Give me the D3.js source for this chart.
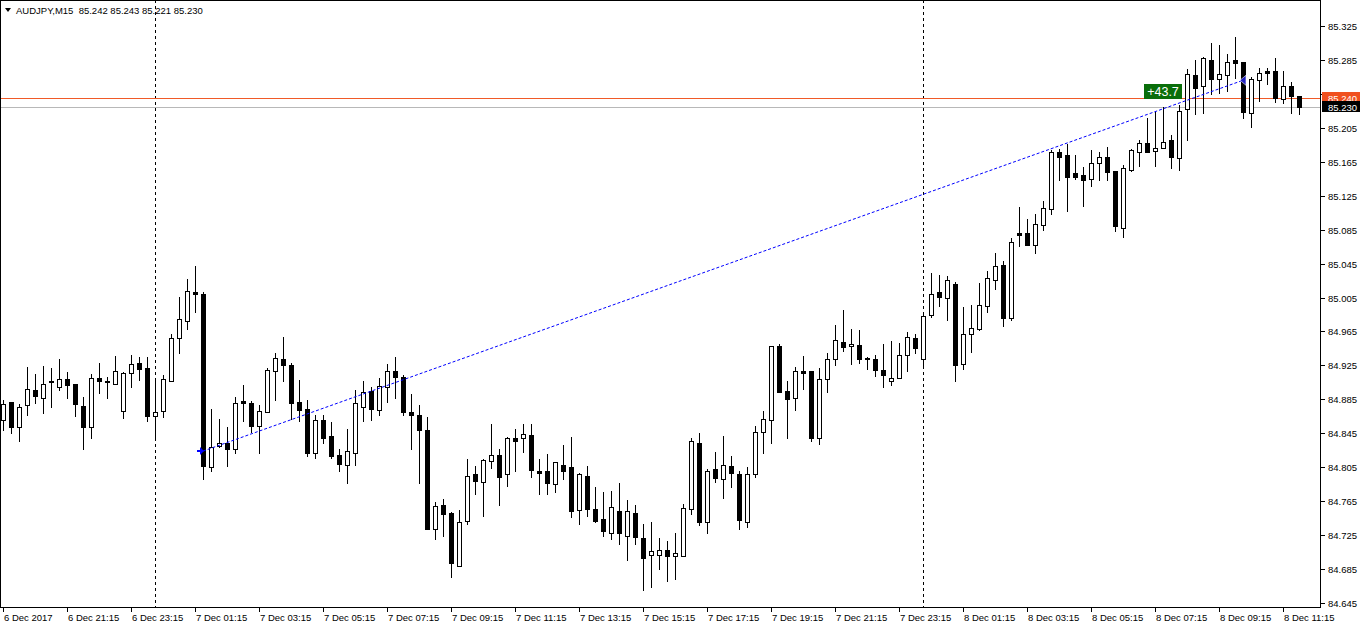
<!DOCTYPE html>
<html>
<head>
<meta charset="utf-8">
<script src="https://cdn.jsdelivr.net/npm/d3@7"></script>
<style>
  html, body { margin: 0; padding: 0; background: #ffffff; }
  svg { display: block; }
  text { font-family: "Liberation Sans", Arial, sans-serif; }
</style>
</head>
<body>
<svg id="chart" width="1362" height="629"></svg>
<script>
// ---------------- DATA (AUDJPY M15, bar 0 = 6 Dec 2017 19:15) ----------------
const symbolTitle = "AUDJPY,M15";
const opens = [84.861,84.882,84.852,84.878,84.896,84.887,84.907,84.900,84.909,84.903,
84.877,84.852,84.910,84.907,84.903,84.871,84.916,84.928,84.922,84.865,
84.871,84.907,84.957,84.977,85.011,85.009,84.805,84.830,84.834,84.827,
84.883,84.881,84.854,84.870,84.918,84.932,84.926,84.882,84.874,84.822,
84.861,84.842,84.819,84.808,84.822,84.876,84.895,84.873,84.900,84.918,
84.911,84.870,84.867,84.849,84.732,84.760,84.751,84.689,84.742,84.797,
84.788,84.812,84.819,84.797,84.839,84.839,84.843,84.801,84.800,84.785,
84.808,84.805,84.755,84.795,84.756,84.744,84.728,84.753,84.724,84.751,
84.722,84.701,84.702,84.707,84.700,84.700,84.756,84.834,84.740,84.803,
84.791,84.806,84.797,84.741,84.797,84.846,84.861,84.948,84.895,84.887,
84.918,84.918,84.840,84.909,84.933,84.953,84.948,84.949,84.934,84.933,
84.920,84.907,84.910,84.937,84.957,84.932,84.985,85.011,85.005,85.021,
84.927,84.962,84.968,84.995,85.026,85.043,84.981,85.081,85.081,85.067,
85.091,85.109,85.177,85.173,85.152,85.149,85.145,85.163,85.171,85.154,
85.087,85.155,85.176,85.187,85.178,85.181,85.191,85.170,85.227,85.267,
85.254,85.285,85.263,85.267,85.285,85.282,85.223,85.261,85.272,85.272,
85.239,85.254,85.242];
const highs = [84.884,84.882,84.880,84.923,84.915,84.924,84.922,84.933,84.917,84.903,
84.888,84.915,84.928,84.911,84.936,84.917,84.937,84.935,84.935,84.908,
84.914,84.962,85.006,85.027,85.042,85.011,84.874,84.862,84.852,84.888,
84.902,84.883,84.878,84.922,84.940,84.958,84.928,84.908,84.884,84.866,
84.867,84.858,84.827,84.850,84.896,84.907,84.900,84.910,84.927,84.935,
84.914,84.891,84.878,84.864,84.764,84.767,84.752,84.755,84.815,84.807,
84.815,84.856,84.826,84.841,84.850,84.856,84.856,84.815,84.821,84.811,
84.831,84.841,84.798,84.807,84.782,84.776,84.777,84.787,84.766,84.760,
84.738,84.740,84.722,84.718,84.728,84.762,84.839,84.845,84.803,84.823,
84.842,84.818,84.800,84.805,84.854,84.871,84.948,84.950,84.907,84.923,
84.936,84.918,84.922,84.940,84.973,84.990,84.968,84.967,84.935,84.937,
84.950,84.954,84.952,84.964,84.962,84.984,85.034,85.031,85.030,85.023,
84.994,84.996,85.022,85.036,85.058,85.048,85.075,85.112,85.098,85.104,
85.119,85.179,85.180,85.186,85.173,85.159,85.179,85.176,85.182,85.154,
85.161,85.180,85.191,85.217,85.224,85.230,85.196,85.232,85.274,85.285,
85.288,85.305,85.303,85.292,85.312,85.282,85.265,85.276,85.276,85.287,
85.272,85.259,85.243];
const lows = [84.849,84.845,84.836,84.867,84.881,84.869,84.876,84.896,84.887,84.865,
84.827,84.840,84.892,84.887,84.903,84.863,84.900,84.908,84.860,84.841,
84.864,84.907,84.940,84.968,84.988,84.791,84.801,84.829,84.807,84.822,
84.860,84.846,84.822,84.870,84.884,84.907,84.862,84.859,84.818,84.816,
84.834,84.816,84.800,84.787,84.808,84.859,84.861,84.867,84.882,84.887,
84.866,84.827,84.787,84.732,84.720,84.724,84.676,84.689,84.738,84.773,
84.747,84.804,84.760,84.783,84.800,84.823,84.793,84.773,84.773,84.776,
84.791,84.746,84.738,84.747,84.740,84.724,84.720,84.715,84.696,84.715,
84.660,84.664,84.685,84.671,84.673,84.700,84.750,84.737,84.728,84.788,
84.769,84.782,84.732,84.735,84.794,84.822,84.834,84.894,84.839,84.873,
84.897,84.836,84.832,84.894,84.925,84.942,84.927,84.928,84.921,84.913,
84.900,84.902,84.910,84.919,84.940,84.922,84.982,84.995,84.978,84.907,
84.921,84.941,84.967,84.988,85.015,84.972,84.978,85.066,85.067,85.057,
85.085,85.103,85.144,85.107,85.145,85.113,85.136,85.144,85.144,85.083,
85.076,85.154,85.160,85.176,85.160,85.181,85.158,85.155,85.191,85.221,
85.222,85.245,85.246,85.248,85.264,85.217,85.206,85.237,85.257,85.235,
85.234,85.223,85.221];
const closes = [84.880,84.853,84.876,84.897,84.889,84.903,84.905,84.909,84.902,84.880,
84.853,84.910,84.907,84.905,84.918,84.916,84.927,84.921,84.865,84.870,
84.909,84.957,84.980,85.013,85.009,84.806,84.829,84.834,84.827,84.881,
84.881,84.854,84.871,84.920,84.934,84.926,84.881,84.873,84.822,84.861,
84.840,84.818,84.809,84.824,84.881,84.894,84.874,84.901,84.919,84.911,
84.870,84.867,84.849,84.732,84.759,84.750,84.692,84.740,84.795,84.789,
84.813,84.819,84.794,84.839,84.836,84.844,84.802,84.798,84.787,84.811,
84.800,84.753,84.797,84.756,84.742,84.730,84.758,84.727,84.753,84.723,
84.698,84.706,84.708,84.700,84.704,84.757,84.836,84.740,84.800,84.792,
84.808,84.798,84.743,84.797,84.846,84.862,84.948,84.894,84.886,84.919,
84.916,84.840,84.909,84.933,84.955,84.947,84.950,84.932,84.932,84.920,
84.914,84.910,84.937,84.958,84.946,84.983,85.009,85.006,85.026,84.925,
84.962,84.969,84.996,85.028,85.042,84.981,85.070,85.079,85.067,85.092,
85.110,85.177,85.171,85.147,85.147,85.143,85.163,85.171,85.153,85.089,
85.158,85.179,85.187,85.177,85.181,85.188,85.171,85.225,85.268,85.252,
85.287,85.263,85.268,85.282,85.281,85.224,85.263,85.270,85.270,85.240,
85.254,85.243,85.230];

const yTickLabels = ["85.325","85.285","85.245","85.205","85.165","85.125","85.085","85.045",
  "85.005","84.965","84.925","84.885","84.845","84.805","84.765","84.725","84.685","84.645"];
const xTickBars = [0,8,16,24,32,40,48,56,64,72,80,88,96,104,112,120,128,136,144,152,160];
const xTickLabels = ["6 Dec 2017","6 Dec 21:15","6 Dec 23:15","7 Dec 01:15","7 Dec 03:15",
  "7 Dec 05:15","7 Dec 07:15","7 Dec 09:15","7 Dec 11:15","7 Dec 13:15","7 Dec 15:15",
  "7 Dec 17:15","7 Dec 19:15","7 Dec 21:15","7 Dec 23:15","8 Dec 01:15","8 Dec 03:15",
  "8 Dec 05:15","8 Dec 07:15","8 Dec 09:15","8 Dec 11:15"];
const separatorBars = [19, 115];           // day separators (00:00)
const trendBars = [25, 155];
const trendPrices = [84.824, 85.261];
const trendLabel = "+43.7";
const lineAskPrice = 85.240;
const lineBidPrice = 85.230;

// ---------------- LAYOUT ----------------
const W = 1362, H = 629;
const plotL = 0, plotR = 1320, plotT = 0, plotB = 607;
const svg = d3.select("#chart");

const x = d3.scaleLinear().domain([0, 162]).range([3, 1299]);
const y = d3.scaleLinear().domain([84.645, 85.325]).range([603, 26]);

const bars = opens.map((o, i) => ({ i, o, h: highs[i], l: lows[i], c: closes[i] }));

svg.append("rect").attr("width", W).attr("height", H).attr("fill", "#ffffff");

const defs = svg.append("defs");
defs.append("clipPath").attr("id", "plotclip").append("rect")
  .attr("x", plotL + 1).attr("y", plotT + 1)
  .attr("width", plotR - plotL - 1).attr("height", plotB - plotT - 1);

const plot = svg.append("g").attr("clip-path", "url(#plotclip)");

// day separators
plot.selectAll("line.sep").data(separatorBars).enter().append("line")
  .attr("x1", d => Math.round(x(d)) + 0.5).attr("x2", d => Math.round(x(d)) + 0.5)
  .attr("y1", plotT).attr("y2", plotB)
  .attr("stroke", "#000").attr("stroke-width", 1).attr("stroke-dasharray", "3,3")
  .attr("shape-rendering", "crispEdges");

// bid / ask horizontal lines
plot.append("line")
  .attr("x1", plotL).attr("x2", plotR)
  .attr("y1", Math.round(y(lineBidPrice)) + 0.5).attr("y2", Math.round(y(lineBidPrice)) + 0.5)
  .attr("stroke", "#b8b8b8").attr("shape-rendering", "crispEdges");
plot.append("line")
  .attr("x1", plotL).attr("x2", plotR)
  .attr("y1", Math.round(y(lineAskPrice)) + 0.5).attr("y2", Math.round(y(lineAskPrice)) + 0.5)
  .attr("stroke", "#f05a28").attr("shape-rendering", "crispEdges");

// candles
const cg = plot.append("g").attr("shape-rendering", "crispEdges");
const candle = cg.selectAll("g.c").data(bars).enter().append("g");
candle.append("line")
  .attr("x1", d => Math.round(x(d.i)) + 0.5).attr("x2", d => Math.round(x(d.i)) + 0.5)
  .attr("y1", d => Math.round(y(d.h))).attr("y2", d => Math.round(y(d.l)) + 1)
  .attr("stroke", "#000");
candle.append("rect")
  .attr("x", d => Math.round(x(d.i)) - 1.5)
  .attr("y", d => Math.round(y(Math.max(d.o, d.c))) + 0.5)
  .attr("width", 4)
  .attr("height", d => Math.max(0, Math.round(y(Math.min(d.o, d.c))) - Math.round(y(Math.max(d.o, d.c)))))
  .attr("fill", d => d.c >= d.o ? "#ffffff" : "#000000")
  .attr("stroke", "#000");

// trend line
const tx1 = x(trendBars[0]), ty1 = y(trendPrices[0]);
const tx2 = x(trendBars[1]), ty2 = y(trendPrices[1]);
plot.append("line")
  .attr("x1", tx1).attr("y1", ty1).attr("x2", tx2).attr("y2", ty2)
  .attr("stroke", "#0000ff").attr("stroke-width", 1).attr("stroke-dasharray", "3,2");
// start arrow (pointing right)
plot.append("path")
  .attr("d", `M${tx1 - 6},${ty1 - 1} L${tx1 - 3},${ty1 - 1} L${tx1 - 3},${ty1 - 4} L${tx1 + 1},${ty1} L${tx1 - 3},${ty1 + 4} L${tx1 - 3},${ty1 + 1} L${tx1 - 6},${ty1 + 1} Z`)
  .attr("fill", "#0000ff");
// end marker (triangle pointing left)
plot.append("path")
  .attr("d", `M${tx2 - 3},${ty2} L${tx2 + 3},${ty2 - 5} L${tx2 + 3},${ty2 + 5} Z`)
  .attr("fill", "#2020c0").attr("stroke", "#ffffff").attr("stroke-width", 0.6);

// trend label box
const lbx1 = x(142.6), lbx2 = x(147.4);
const lby1 = y(85.257), lby2 = y(85.239);
plot.append("rect")
  .attr("x", Math.round(lbx1)).attr("y", Math.round(lby1))
  .attr("width", Math.round(lbx2 - lbx1)).attr("height", Math.round(lby2 - lby1))
  .attr("fill", "#0a6e0a");
plot.append("text")
  .attr("x", (lbx1 + lbx2) / 2).attr("y", (lby1 + lby2) / 2 + 4.5)
  .attr("text-anchor", "middle").attr("fill", "#ffffff")
  .attr("font-size", "12.5px").text(trendLabel);

// frame
svg.append("rect")
  .attr("x", plotL + 0.5).attr("y", plotT + 0.5)
  .attr("width", plotR - plotL).attr("height", plotB - plotT)
  .attr("fill", "none").attr("stroke", "#000").attr("shape-rendering", "crispEdges");

// y axis ticks and labels
const yAxis = svg.append("g").attr("shape-rendering", "crispEdges");
yTickLabels.forEach(t => {
  const yy = Math.round(y(+t)) + 0.5;
  yAxis.append("line").attr("x1", plotR + 1).attr("x2", plotR + 5)
    .attr("y1", yy).attr("y2", yy).attr("stroke", "#000");
  yAxis.append("text").attr("x", plotR + 8).attr("y", yy + 3.5)
    .attr("font-size", "9.5px").attr("fill", "#000").text(t);
});

// price labels on axis
function priceTag(price, bg, fg) {
  const yy = Math.round(y(price));
  svg.append("rect").attr("x", plotR + 2).attr("y", yy - 6)
    .attr("width", 38).attr("height", 11).attr("fill", bg)
    .attr("shape-rendering", "crispEdges");
  svg.append("text").attr("x", plotR + 8).attr("y", yy + 3.5)
    .attr("font-size", "9.5px").attr("fill", fg).text(price.toFixed(3));
}
priceTag(lineAskPrice, "#f0501e", "#ffffff");
priceTag(lineBidPrice, "#000000", "#ffffff");

// x axis ticks and labels
const xAxis = svg.append("g").attr("shape-rendering", "crispEdges");
xTickBars.forEach((b, k) => {
  const xx = Math.round(x(b)) + 0.5;
  xAxis.append("line").attr("x1", xx).attr("x2", xx)
    .attr("y1", plotB + 1).attr("y2", plotB + 5).attr("stroke", "#000");
  xAxis.append("text").attr("x", xx + 0.5).attr("y", plotB + 14)
    .attr("font-size", "9.5px").attr("fill", "#000").text(xTickLabels[k]);
});

// title
svg.append("path").attr("d", "M5,8 L11,8 L8,12 Z").attr("fill", "#000");
svg.append("text").attr("x", 16).attr("y", 14).attr("font-size", "9.5px").attr("fill", "#000")
  .attr("xml:space", "preserve")
  .text(`${symbolTitle}  ${opens[162].toFixed(3)} ${highs[162].toFixed(3)} ${lows[162].toFixed(3)} ${closes[162].toFixed(3)}`);
</script>
</body>
</html>
